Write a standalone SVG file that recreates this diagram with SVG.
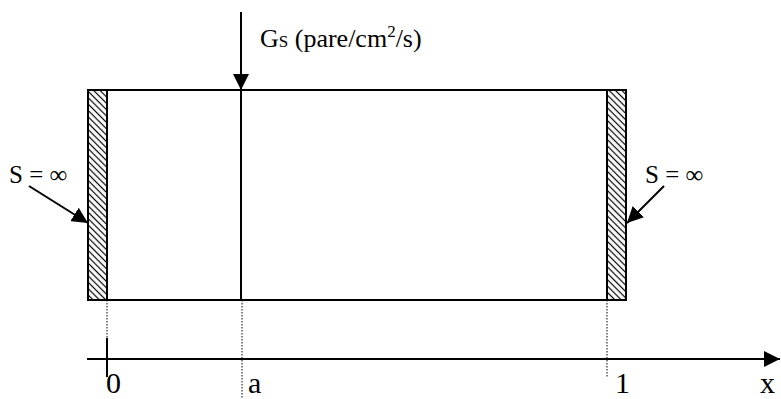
<svg xmlns="http://www.w3.org/2000/svg" width="781" height="399" viewBox="0 0 781 399">
<style>
.ln{stroke:#000;stroke-width:2;fill:none}
.dot{stroke:#000;stroke-width:1;stroke-dasharray:1.5 1.5;fill:none}
.t{font-family:"Liberation Serif","Times New Roman",serif;fill:#000}
</style>
<defs>
<pattern id="hatch" patternUnits="userSpaceOnUse" width="4.5" height="4.5" patternTransform="rotate(45)">
<line x1="0" y1="2.25" x2="4.5" y2="2.25" stroke="#000" stroke-width="1.2"/>
</pattern>
<marker id="ahBig" viewBox="0 0 16 16" refX="16" refY="8" markerWidth="16" markerHeight="16" markerUnits="userSpaceOnUse" orient="auto">
<path d="M0,0 L16,8 L0,16 Z" fill="#000"/>
</marker>
</defs>
<g id="slab">
<rect x="88" y="90" width="538" height="210" class="ln"/>
</g>
<g id="leftwall">
<rect x="88" y="90" width="19" height="210" fill="url(#hatch)" stroke="#000" stroke-width="2"/>
</g>
<g id="rightwall">
<rect x="607" y="90" width="19" height="210" fill="url(#hatch)" stroke="#000" stroke-width="2"/>
</g>
<g id="connectors">
<line x1="241" y1="12" x2="241" y2="90" class="ln" marker-end="url(#ahBig)"/>
<line x1="241" y1="90" x2="241" y2="300" class="ln"/>
<line x1="29" y1="186" x2="88" y2="223" class="ln" marker-end="url(#ahBig)"/>
<line x1="664" y1="186" x2="627" y2="223" class="ln" marker-end="url(#ahBig)"/>
<line x1="87" y1="359" x2="780" y2="359" class="ln" marker-end="url(#ahBig)"/>
<line x1="107" y1="338" x2="107" y2="377" class="ln"/>
<line x1="107" y1="300" x2="107" y2="338" class="dot"/>
<line x1="242" y1="300" x2="242" y2="399" class="dot"/>
<line x1="607" y1="300" x2="607" y2="378" class="dot"/>
</g>
<g id="labels">
<text class="t" x="260" y="47" font-size="26">G<tspan font-size="17">S</tspan> (pare/cm<tspan font-size="17" dy="-10">2</tspan><tspan dy="10">/s)</tspan></text>
<text class="t" x="9" y="183" font-size="25">S = ∞</text>
<text class="t" x="645" y="183" font-size="25">S = ∞</text>
<text class="t" x="106" y="393" font-size="30">0</text>
<text class="t" x="248" y="393" font-size="30">a</text>
<text class="t" x="615" y="393" font-size="30">1</text>
<text class="t" x="760" y="393" font-size="30">x</text>
</g>
</svg>
